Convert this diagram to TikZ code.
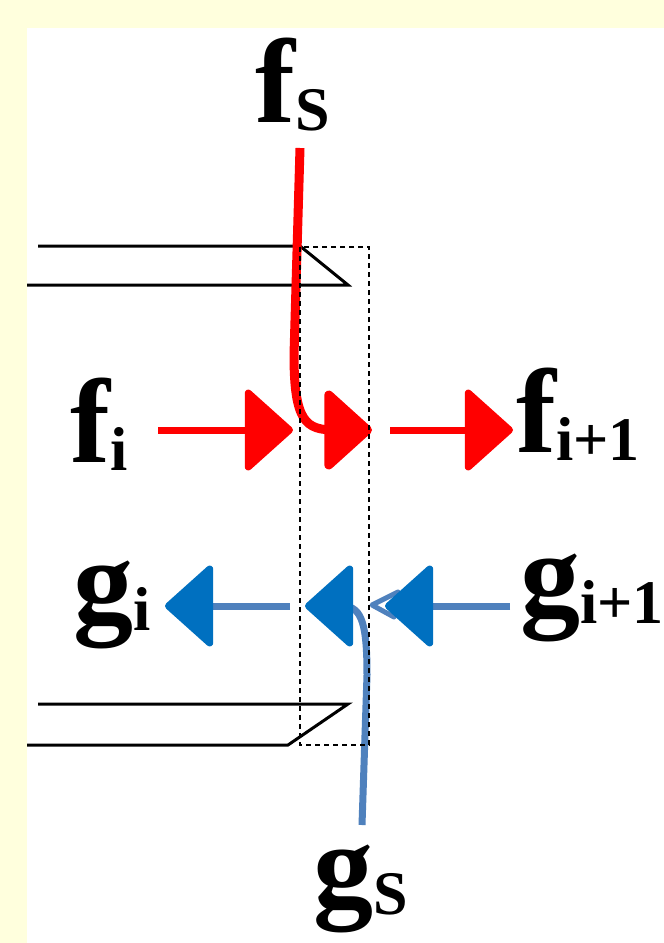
\documentclass[tikz,border=0pt]{standalone}
\usepackage{fontspec}
\setmainfont{Liberation Serif}
\usetikzlibrary{arrows.meta}
\definecolor{bgyel}{HTML}{FFFFDD}
\definecolor{fred}{HTML}{FF0000}
\definecolor{ghead}{HTML}{0070C0}
\definecolor{gline}{HTML}{4F81BD}
\newcommand{\flab}[2]{\bfseries{\fontsize{60}{60}\selectfont #1}%
  \raisebox{-4pt}{\fontsize{31}{31}\selectfont #2}}

\begin{document}
\begin{tikzpicture}[x=0.5pt, y=-0.5pt,
    lbl/.style={inner sep=0pt, anchor=base west},
    pipe/.style={line width=1.5pt, line join=miter},
    fflow/.style={fred, line width=3.5pt,
      -{Triangle[length=25pt, width=44pt, round]}},
    gflow/.style={gline, line width=3.5pt,
      -{Triangle[length=25pt, width=44pt, round, color=ghead]}}]
    % page
    \fill[bgyel] (0,0) rectangle (664,943);
    \fill[white] (27,28) rectangle (664,943);
    \useasboundingbox (0,0) rectangle (664,943);
    % labels
    \node[lbl] (fs) at (255,122) {\flab{f}{S}};
    \node[lbl] (fi) at (70,462) {\flab{f}{i}};
    \node[lbl] (fn) at (516,452) {\flab{f}{i+1}};
    \node[lbl] (gi) at (73,622) {\flab{g}{i}};
    \node[lbl] (gn) at (520,615) {\flab{g}{i+1}};
    \node[lbl] (gs) at (313,906) {\flab{g}{S}};
    % pipes
    \draw[pipe] (38,246) -- (300,246) -- (348,285) -- (27,285);
    \draw[pipe] (38,704) -- (348,704) -- (288,745) -- (27,745);
    % arrow ends
    \coordinate (fiA) at (158,430);
    \coordinate (fiB) at (293,430);
    \coordinate (fsA) at (300,148);
    \coordinate (fmid) at (372,430);
    \coordinate (fnA) at (390,430);
    \coordinate (fnB) at (513,430);
    \coordinate (giA) at (290,606);
    \coordinate (giB) at (165,606);
    \coordinate (gsA) at (362,825);
    \coordinate (gmid) at (305,606);
    \coordinate (gnA) at (510,606);
    \coordinate (gnB) at (385,606);
    % forward flow
    \draw[fflow] (fiA) -- (fiB);
    \draw[fflow, line width=4.5pt] (fsA) -- (294,355)
      .. controls (294,422) and (306,430) .. (335,430) -- (fmid);
    \draw[fflow] (fnA) -- (fnB);
    % backward flow
    \draw[gflow] (giA) -- (giB);
    \draw[gflow] (gsA) -- (367,675)
      .. controls (367,625) and (362,608) .. (345,606) -- (gmid);
    \draw[gline, line width=2.5pt, line cap=round, line join=round]
      (398,592) -- (372,605) -- (394,617);
    \draw[gflow] (gnA) -- (gnB);
    % cell
    \draw[dashed, line width=0.6pt, dash pattern=on 2.5pt off 2pt]
      (300,247) rectangle (369,745);
\end{tikzpicture}
\end{document}
